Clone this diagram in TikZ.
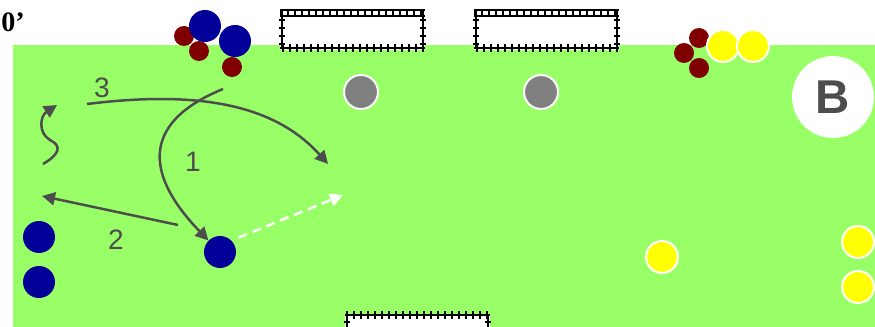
\documentclass[tikz,border=0pt]{standalone}
\usepackage{fontspec}
\setmainfont{Liberation Serif}
\newfontfamily\labelfont{Liberation Sans}
\usetikzlibrary{arrows.meta}

\definecolor{pitch}{RGB}{153,255,102}
\definecolor{teamblue}{RGB}{0,0,153}
\definecolor{teamred}{RGB}{128,0,0}
\definecolor{teamyellow}{RGB}{255,255,0}
\definecolor{conegrey}{RGB}{128,128,128}
\definecolor{arrowgrey}{RGB}{77,77,77}

\begin{document}
\begin{tikzpicture}[x=0.02cm, y=-0.02cm,
    blueplayer/.style={circle, inner sep=0pt, minimum size=6.4mm, fill=teamblue},
    redplayer/.style={circle, inner sep=0pt, minimum size=4mm, fill=teamred},
    yellowplayer/.style={circle, inner sep=0pt, minimum size=6.4mm, fill=teamyellow, draw=white, line width=0.4mm},
    cone/.style={circle, inner sep=0pt, minimum size=6.8mm, fill=conegrey, draw=white, line width=0.4mm},
    run/.style={-{Triangle[length=2.6mm,width=2.6mm]}, line width=0.5mm, draw=arrowgrey},
    pass/.style={-{Triangle[length=2.6mm,width=2.6mm]}, line width=0.5mm, draw=white, dash pattern=on 1.8mm off 1.2mm},
    num/.style={text=arrowgrey, font=\labelfont\fontsize{16}{16}\selectfont},
    net/.style={line width=0.35mm, black}
]
\useasboundingbox (0,0) rectangle (875,327);

% Pitch
\fill[pitch] (13,45) rectangle (875,327);
\node[anchor=base west, font=\bfseries\fontsize{16}{16}\selectfont, inner sep=0pt] (time) at (1,32) {0’};

% Top goals
\foreach \gx in {280,474} {
  \fill[white] (\gx,10) rectangle ++(145,40);
  \draw[net] (\gx,10) -- ++(145,0) (\gx,16) -- ++(145,0);
  \foreach \i in {0,...,20}
    \draw[net] (\gx+\i*7+1,9) -- ++(0,8);
  \draw[net] (\gx,48) -- ++(145,0);
  \foreach \i in {0,...,20}
    \draw[net] (\gx+\i*7+3,44) -- ++(0,8);
  \draw[net] (\gx+2,10) -- ++(0,38) (\gx+143,10) -- ++(0,38);
  \foreach \j in {0,...,3} {
    \draw[net] (\gx-1,\j*8+20) -- ++(6,0);
    \draw[net] (\gx+140,\j*8+20) -- ++(6,0);
  }
}

% Bottom goal
\fill[white] (345,315) rectangle (490,327);
\draw[net] (345,315) -- (490,315);
\foreach \i in {0,...,20}
  \draw[net] (\i*7+347,311) -- ++(0,8);
\draw[net] (347,315) -- (347,327) (488,315) -- (488,327);
\draw[net] (344,322) -- ++(6,0) (485,322) -- ++(6,0);

% Cones
\node[cone] (cone1) at (361,92) {};
\node[cone] (cone2) at (541,92) {};

% Team B
\node[circle, fill=white, minimum size=16.4mm, inner sep=0pt, text=arrowgrey,
      font=\labelfont\bfseries\fontsize{27}{27}\selectfont] (teamB) at (833,97) {B};

% Blue team and red team at the start
\node[redplayer] (r1) at (184,36) {};
\node[redplayer] (r2) at (199,51) {};
\node[redplayer] (r3) at (232,67) {};
\node[blueplayer] (b1) at (205,26) {};
\node[blueplayer] (b2) at (235,41) {};
\node[blueplayer] (bl1) at (39,237) {};
\node[blueplayer] (bl2) at (39,282) {};
\node[blueplayer] (pm) at (220,252) {};

% Red and yellow on the right
\node[redplayer] (r4) at (699,38) {};
\node[redplayer] (r5) at (684,53) {};
\node[redplayer] (r6) at (699,68) {};
\node[yellowplayer] (y1) at (723,46) {};
\node[yellowplayer] (y2) at (753,46) {};
\node[yellowplayer] (y3) at (662,257) {};
\node[yellowplayer] (y4) at (858,242) {};
\node[yellowplayer] (y5) at (858,287) {};

% Free ends of the runs
\coordinate (s1) at (223,89);
\coordinate (s2) at (178,225);
\coordinate (e2) at (42,196);
\coordinate (s3) at (87,104);
\coordinate (e3) at (328,164);
\coordinate (sw) at (43,164);
\coordinate (ew) at (57,105);
\coordinate (ep) at (343,195);

% Runs
\draw[run] (s1) .. controls (135,125) and (150,180) .. (pm.north west);
\draw[run] (s2) -- (e2);
\draw[run] (s3) .. controls (200,90) and (275,105) .. (e3);
\draw[run] (sw) .. controls (60,154) and (62,146) .. (50,140)
               .. controls (38,133) and (40,116) .. (ew);
\draw[pass, shorten <=1.5mm] (pm.north east) -- (ep);

% Numbers
\node[num] (n1) at (193,162) {1};
\node[num] (n2) at (116,240) {2};
\node[num] (n3) at (102,88) {3};

\end{tikzpicture}
\end{document}
